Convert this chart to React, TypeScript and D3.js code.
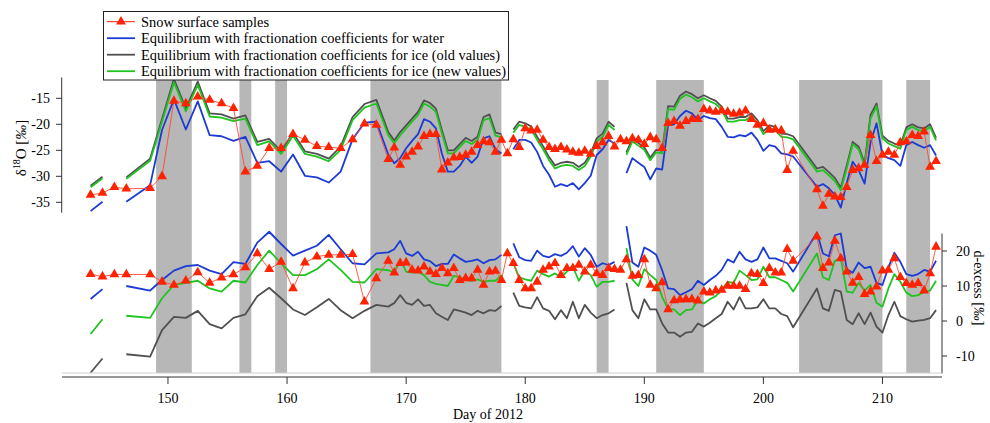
import * as d3 from "d3";

// sampling days (day of 2012)
const days = [
  143.5, 144.5, 145.5, 146.5, 148.5, 149.5, 150.5, 151.5, 152.5, 153.5, 154.5, 155.5,
  156.5, 157.5, 158.5, 159.5, 160.5, 161.5, 162.5, 163.5, 164.5, 165.5, 166.5, 167.5,
  168.5, 169, 169.5, 170, 170.5, 171, 171.5, 172, 172.5, 173, 173.5, 174, 174.5, 175,
  175.5, 176, 176.5, 177, 177.5, 178, 178.5, 179, 179.5, 180, 180.5, 181, 181.5, 182,
  182.5, 183, 183.5, 184, 184.5, 185, 185.5, 186, 186.5, 187, 187.5, 188, 188.5, 189,
  189.5, 190, 190.5, 191, 191.5, 192, 192.5, 193, 193.5, 194, 194.5, 195, 195.5, 196,
  196.5, 197, 197.5, 198, 198.5, 199, 199.5, 200, 200.5, 201, 201.5, 202, 202.5,
  204.5, 205, 205.5, 206, 206.5, 207, 207.5, 208, 208.5, 209, 209.5, 210, 210.5, 211,
  211.5, 212, 212.5, 213, 213.5, 214, 214.5,
];

// d18O panel
const snowD18O = [
  -33.6, -33.2, -32.1, -32.4, -32.3, -30.0, -15.5, -16.0, -14.7, -15.3, -16.0, -16.9,
  -29.1, -28.0, -24.6, -24.6, -21.9, -23.0, -24.2, -24.4, -24.6, -22.9, -19.9, -20.1,
  -26.7, -24.5, -27.8, -26.2, -25.3, -24.3, -22.3, -21.9, -21.9, -28.7, -27.4, -26.4,
  -26.3, -25.9, -25.3, -24.0, -23.3, -23.5, -25.3, -23.0, -25.6, -22.9, -24.4, -20.8,
  -21.2, -21.1, -23.0, -24.4, -24.8, -24.4, -24.9, -25.3, -25.5, -25.1, -25.7, -24.2,
  -23.5, -22.3, -24.3, -22.9, -23.3, -22.7, -23.0, -23.8, -22.5, -22.9, -24.6, -19.8,
  -19.4, -20.3, -19.4, -19.0, -19.0, -17.1, -17.4, -17.6, -17.4, -17.6, -18.0, -17.8,
  -17.4, -19.0, -20.1, -19.8, -21.1, -21.0, -21.2, -28.8, -25.1,
  -32.5, -35.7, -33.4, -33.9, -34.0, -32.1, -28.8, -28.5, -27.8, -22.1, -27.1, -25.9,
  -25.3, -25.9, -23.5, -23.3, -22.1, -22.3, -21.4, -28.2, -27.1,
];
const waterD18O = [
  -36.7, -34.9, null, -34.9, -31.7, -21.1, -15.2, -21.0, -15.6, -22.1, -22.3, -23.2,
  -22.4, -27.4, -27.1, -29.1, -25.8, -29.9, -30.2, -31.2, -29.1, -22.9, -19.7, -19.5,
  -25.8, -27.5, -26.5, -24.6, -23.2, -21.9, -19.0, -19.5, -20.8, -25.6, -29.1, -29.1,
  -28.0, -26.2, -27.4, -26.2, -22.7, -22.3, -24.8, -25.6, null, -24.8, -23.0, -23.0,
  -23.5, -25.3, -28.0, -29.7, -32.0, -31.5, -31.9, -31.3, -32.5, -31.3, -29.9, -25.9,
  -24.8, -23.0, -23.7, null, -29.4, -26.5, -27.4, -28.2, -30.6, -28.5, -28.7, -20.1,
  -20.0, -18.4, -17.4, -17.9, -19.2, -18.4, -18.8, -19.0, -20.5, -22.4, -22.5, -22.1,
  -22.3, -21.6, -23.0, -25.1, -24.0, -24.3, -25.6, -25.8, -26.2,
  -32.0, -31.5, -32.3, -33.6, -36.0, -31.3, -27.2, -28.8, -31.4, -23.5, -19.8, -25.9,
  -26.5, -26.9, -28.0, -24.0, -23.4, -24.0, -24.5, -24.0, -26.0,
];
const iceOldD18O = [
  -31.8, -30.1, null, -30.2, -26.6, -19.0, -11.3, -17.0, -11.8, -17.9, -18.1, -18.9,
  -18.3, -23.4, -22.8, -25.2, -21.6, -25.2, -25.7, -26.6, -24.3, -18.6, -16.1, -15.3,
  -21.5, -23.1, -21.5, -20.2, -18.9, -17.6, -15.4, -15.9, -17.0, -21.1, -25.0, -25.0,
  -23.8, -22.6, -23.2, -22.4, -18.6, -18.1, -21.6, -21.9, null, -21.0, -19.5, -19.8,
  -20.4, -22.4, -24.2, -26.3, -27.9, -27.4, -27.2, -27.4, -28.2, -27.4, -25.6, -22.7,
  -21.8, -19.5, -20.5, null, -25.4, -22.8, -23.6, -24.4, -26.4, -24.9, -25.1, -16.5,
  -16.6, -14.5, -13.7, -14.2, -15.0, -14.4, -15.0, -15.5, -16.6, -18.9, -18.9, -18.6,
  -18.6, -17.9, -19.2, -21.3, -20.2, -20.5, -21.8, -21.9, -22.3,
  -28.5, -28.2, -29.2, -30.3, -32.2, -27.9, -23.4, -24.3, -27.5, -18.2, -16.0, -22.2,
  -23.2, -23.7, -24.1, -20.6, -20.0, -20.6, -20.8, -20.0, -22.6,
];
const iceNewD18O = [
  -32.1, -30.4, null, -30.5, -27.0, -19.5, -11.9, -17.5, -12.4, -18.5, -18.7, -19.4,
  -18.9, -24.0, -23.3, -25.7, -22.2, -25.7, -26.2, -27.1, -24.9, -19.2, -16.8, -16.0,
  -22.1, -23.7, -22.1, -20.8, -19.5, -18.2, -16.0, -16.6, -17.6, -21.7, -25.6, -25.6,
  -24.4, -23.2, -23.8, -23.0, -19.2, -18.8, -22.2, -22.5, null, -21.6, -20.1, -20.5,
  -21.0, -23.0, -24.8, -26.9, -28.5, -28.0, -27.8, -28.0, -28.8, -28.0, -26.2, -23.3,
  -22.4, -20.1, -21.1, null, -25.9, -23.3, -24.1, -24.9, -26.9, -25.4, -25.6, -17.1,
  -17.2, -15.1, -14.3, -14.8, -15.6, -15.0, -15.6, -16.1, -17.2, -19.5, -19.5, -19.2,
  -19.2, -18.5, -19.8, -21.9, -20.8, -21.1, -22.4, -22.5, -22.9,
  -29.1, -28.8, -29.8, -30.9, -32.7, -28.5, -23.8, -24.8, -28.0, -18.9, -16.5, -22.7,
  -23.7, -24.2, -24.7, -21.1, -20.5, -21.1, -21.3, -20.5, -23.1,
];

// d-excess panel
const snowDex = [
  13.4, 12.7, 13.3, 13.3, 13.3, 11.2, 10.3, 11.5, 13.9, 10.9, 12.4, 13.3,
  15.3, 19.3, 14.8, 16.9, 9.3, 16.7, 18.4, 18.9, 18.9, 19.1, 5.5, 12.2,
  17.2, 13.8, 16.5, 16.7, 14.6, 14.4, 15.5, 14.1, 13.4, 15.1, 13.6, 15.1,
  11.7, 12.2, 12.2, 14.6, 10.3, 14.1, 14.3, 11.7, 19.3, 16.5, 11.7, 9.3,
  9.3, 11.2, 14.6, 15.5, 16.5, 13.1, 15.1, 15.1, 16.0, 14.1, 16.0, 13.6,
  13.1, 15.1, 14.8, 14.6, 17.6, 12.9, 13.1, 17.6, 10.3, 9.3, 11.0, 3.3,
  5.9, 6.1, 6.2, 6.2, 5.8, 8.4, 8.1, 8.7, 8.9, 10.0, 10.0, 10.0,
  9.1, 13.6, 13.4, 10.8, 15.1, 13.8, 13.8, 20.5, 17.2,
  24.1, 15.1, 16.7, 22.9, 17.9, 14.1, 10.9, 12.5, 7.7, 8.4, 9.8, 14.4,
  14.6, 17.9, 12.5, 10.8, 10.3, 10.8, 8.7, 13.6, 21.2,
];
const waterDex = [
  6.3, 9.1, null, 10.0, 8.7, 11.7, 14.4, 15.7, 16.0, 14.4, 13.4, 16.8,
  16.3, 22.4, 25.5, 22.0, 18.7, 20.1, 21.5, 24.6, 20.5, 16.5, 16.2, 19.3,
  19.6, 20.5, 22.9, 19.3, 18.6, 19.8, 17.6, 17.1, 15.7, 16.3, 16.3, 19.0,
  17.9, 16.9, 17.2, 17.6, 16.5, 17.4, 17.6, 18.9, null, 22.2, 18.2, 17.4,
  17.2, 20.1, 18.6, 18.2, 19.1, 18.6, 19.5, 21.4, 18.4, 20.8, 18.9, 15.5,
  16.5, 16.0, 16.9, null, 27.1, 16.7, 15.5, 21.0, 20.1, 18.9, 14.5, 9.3,
  9.1, 7.4, 8.2, 9.1, 11.5, 10.3, 11.7, 12.9, 14.6, 17.6, 16.7, 19.8,
  17.6, 16.9, 17.6, 21.0, 17.9, 17.9, 17.2, 16.5, 14.1,
  25.3, 19.3, 18.5, 24.5, 25.0, 14.8, 13.8, 16.7, 15.1, 15.5, 10.9, 10.3,
  15.3, 19.5, 16.9, 13.4, 12.9, 13.4, 14.6, 14.1, 17.2,
];
const iceOldDex = [
  -14.8, -10.7, null, -9.5, -10.2, -2.6, 1.2, 0.9, 2.9, -0.9, -2.1, 0.9,
  1.9, 7.1, 9.5, 6.5, 3.3, 1.7, 3.9, 6.3, 3.1, 0.8, 2.9, 4.6,
  4.1, 5.1, 7.4, 5.2, 4.6, 6.2, 4.3, 4.6, 2.2, 1.2, 0.3, 3.3,
  2.9, 2.4, 1.7, 2.9, 2.2, 3.1, 2.9, 4.3, null, 8.1, 4.3, 3.9,
  3.6, 6.8, 3.6, 2.9, 0.5, 3.1, 0.8, 5.5, 0.8, 4.6, 2.4, 0.8,
  1.7, 2.2, 3.3, null, 10.9, 3.1, 0.8, 6.2, 3.3, 3.3, -0.7, -3.3,
  -3.3, -4.5, -3.3, -3.1, -0.7, -1.6, -0.5, 0.8, 2.0, 5.5, 3.3, 6.8,
  3.6, 3.6, 3.9, 6.2, 3.6, 3.6, 2.0, 1.4, -1.8,
  9.3, 3.6, 2.9, 8.9, 8.4, 0.3, -0.9, 2.2, -0.9, 2.4, -1.6, -3.3,
  1.7, 5.5, 1.4, 0.5, -0.2, 0.1, 0.3, 0.8, 3.1,
];
const iceNewDex = [
  -3.7, 0.5, null, 1.5, 0.9, 6.5, 10.3, 10.9, 11.5, 9.3, 8.4, 11.5,
  11.0, 16.0, 20.1, 16.5, 13.1, 13.1, 14.8, 17.6, 14.6, 11.2, 11.0, 14.8,
  14.5, 13.8, 17.6, 14.1, 13.8, 14.1, 13.1, 11.2, 10.6, 10.3, 10.0, 12.9,
  12.5, 11.9, 11.5, 11.9, 11.2, 11.5, 11.5, 13.1, null, 16.5, 12.5, 11.9,
  11.5, 14.4, 13.4, 12.7, 13.6, 12.5, 14.1, 15.5, 11.5, 14.4, 13.1, 9.8,
  11.2, 11.2, 11.5, null, 20.8, 11.9, 10.0, 14.8, 13.1, 11.7, 6.9, 3.3,
  3.3, 1.7, 3.1, 3.3, 6.0, 5.0, 6.2, 7.1, 8.9, 11.2, 10.9, 14.4,
  13.1, 11.7, 11.9, 15.5, 12.5, 12.5, 11.7, 10.9, 8.4,
  19.3, 12.5, 11.7, 17.2, 17.9, 8.4, 8.1, 10.9, 8.7, 10.3, 5.2, 4.1,
  9.3, 13.4, 11.2, 8.1, 7.1, 7.4, 8.4, 8.7, 11.5,
];

// shaded periods
const shadeStart = [149, 156, 159, 167, 186, 191, 203, 212];
const shadeEnd = [152, 157, 160, 178, 187, 195, 210, 214];

const xTicks = [150, 160, 170, 180, 190, 200, 210];
const leftTicks = [-35, -30, -25, -20, -15];
const rightTicks = [-10, 0, 10, 20];

const legendLabels = [
  "Snow surface samples",
  "Equilibrium with fractionation coefficients for water",
  "Equilibrium with fractionation coefficients for ice (old values)",
  "Equilibrium with fractionation coefficients for ice (new values)",
];
const legendWidths = [128, 303, 359, 365];

const RED = "#ff2200";
const BLUE = "#1b3bd4";
const GRAY = "#505050";
const GREEN = "#1fc41f";
const FONT = "'Liberation Serif', 'Times New Roman', serif";

export default function App() {
  const x = d3.scaleLinear().domain([141.1, 215]).range([62, 942]);
  const yTop = d3.scaleLinear().domain([-37, -11]).range([212.7, 77.5]);
  const yBot = d3.scaleLinear().domain([-15, 25]).range([373.5, 233.5]);

  const mkLine = (y: d3.ScaleLinear<number, number>) =>
    d3
      .line<number | null>()
      .defined((d) => d != null)
      .x((d, i) => x(days[i]))
      .y((d) => y(d as number));

  const topLine = mkLine(yTop);
  const botLine = mkLine(yBot);
  const tri = d3.symbol(d3.symbolTriangle, 42)();

  const series = (vals: (number | null)[], gen: any, color: string) => (
    <path d={gen(vals) || ""} fill="none" stroke={color} strokeWidth={1.8} strokeLinejoin="round" />
  );

  const samples = (vals: number[], y: d3.ScaleLinear<number, number>) => (
    <g>
      <path
        d={d3.line<number>().x((d, i) => x(days[i])).y((d) => y(d))(vals) || ""}
        fill="none"
        stroke="#ff4a33"
        strokeWidth={0.9}
      />
      {vals.map((v, i) => (
        <path key={i} d={tri || ""} transform={`translate(${x(days[i])},${y(v)})`} fill={RED} />
      ))}
    </g>
  );

  return (
    <svg
      width={990}
      height={423}
      style={{ position: "absolute", left: 0, top: 0, background: "#fff" }}
      fontFamily={FONT}
    >
      {/* shaded periods */}
      {shadeStart.map((s, i) => (
        <rect key={i} x={x(s)} y={80} width={x(shadeEnd[i]) - x(s)} height={293} fill="#b7b7b7" />
      ))}

      {/* d18O panel */}
      {series(waterD18O, topLine, BLUE)}
      {series(iceOldD18O, topLine, GRAY)}
      {series(iceNewD18O, topLine, GREEN)}
      {samples(snowD18O, yTop)}

      {/* d-excess panel */}
      {series(waterDex, botLine, BLUE)}
      {series(iceOldDex, botLine, GRAY)}
      {series(iceNewDex, botLine, GREEN)}
      {samples(snowDex, yBot)}

      {/* left axis */}
      <line x1={61.7} x2={61.7} y1={yTop(-11)} y2={yTop(-37)} stroke="#333" />
      {leftTicks.map((t) => (
        <g key={t}>
          <line x1={56} x2={61.7} y1={yTop(t)} y2={yTop(t)} stroke="#333" />
          <text x={50} y={yTop(t) + 5} textAnchor="end" fontSize={14}>
            {t}
          </text>
        </g>
      ))}
      <text transform={`translate(26,148) rotate(-90)`} textAnchor="middle" fontSize={15}>
        δ
        <tspan fontSize={10} dy={-6}>
          18
        </tspan>
        <tspan dy={6}>O [</tspan>
        <tspan fontStyle="italic">‰</tspan>]
      </text>

      {/* right axis */}
      <line x1={942} x2={942} y1={yBot(25)} y2={yBot(-15)} stroke="#333" />
      {rightTicks.map((t) => (
        <g key={t}>
          <line x1={942} x2={947} y1={yBot(t)} y2={yBot(t)} stroke="#333" />
          <text x={956} y={yBot(t) + 5} textAnchor="start" fontSize={14}>
            {t}
          </text>
        </g>
      ))}
      <text transform={`translate(974,288) rotate(90)`} textAnchor="middle" fontSize={14}>
        d-excess [<tspan fontStyle="italic">‰</tspan>]
      </text>

      {/* x axis */}
      <line x1={62} x2={942} y1={373} y2={373} stroke="#d0d0d0" />
      <line x1={62} x2={942} y1={377} y2={377} stroke="#333" />
      {xTicks.map((t) => (
        <g key={t}>
          <line x1={x(t)} x2={x(t)} y1={377} y2={384} stroke="#333" />
          <text x={x(t)} y={403} textAnchor="middle" fontSize={14}>
            {t}
          </text>
        </g>
      ))}
      <text x={488} y={419} textAnchor="middle" fontSize={14}>
        Day of 2012
      </text>

      {/* legend */}
      <rect x={103.5} y={11.5} width={405} height={68.5} fill="#fff" stroke="#222" />
      {legendLabels.map((lab, i) => {
        const cy = 21.7 + i * 16.5;
        const col = [RED, BLUE, GRAY, GREEN][i];
        return (
          <g key={lab}>
            <line x1={107} x2={135} y1={cy} y2={cy} stroke={col} strokeWidth={i === 0 ? 1 : 1.8} />
            {i === 0 && <path d={tri || ""} transform={`translate(121,${cy})`} fill={RED} />}
            <text
              x={141}
              y={cy + 5}
              fontSize={15}
              textLength={legendWidths[i]}
              lengthAdjust="spacingAndGlyphs"
            >
              {lab}
            </text>
          </g>
        );
      })}
    </svg>
  );
}
